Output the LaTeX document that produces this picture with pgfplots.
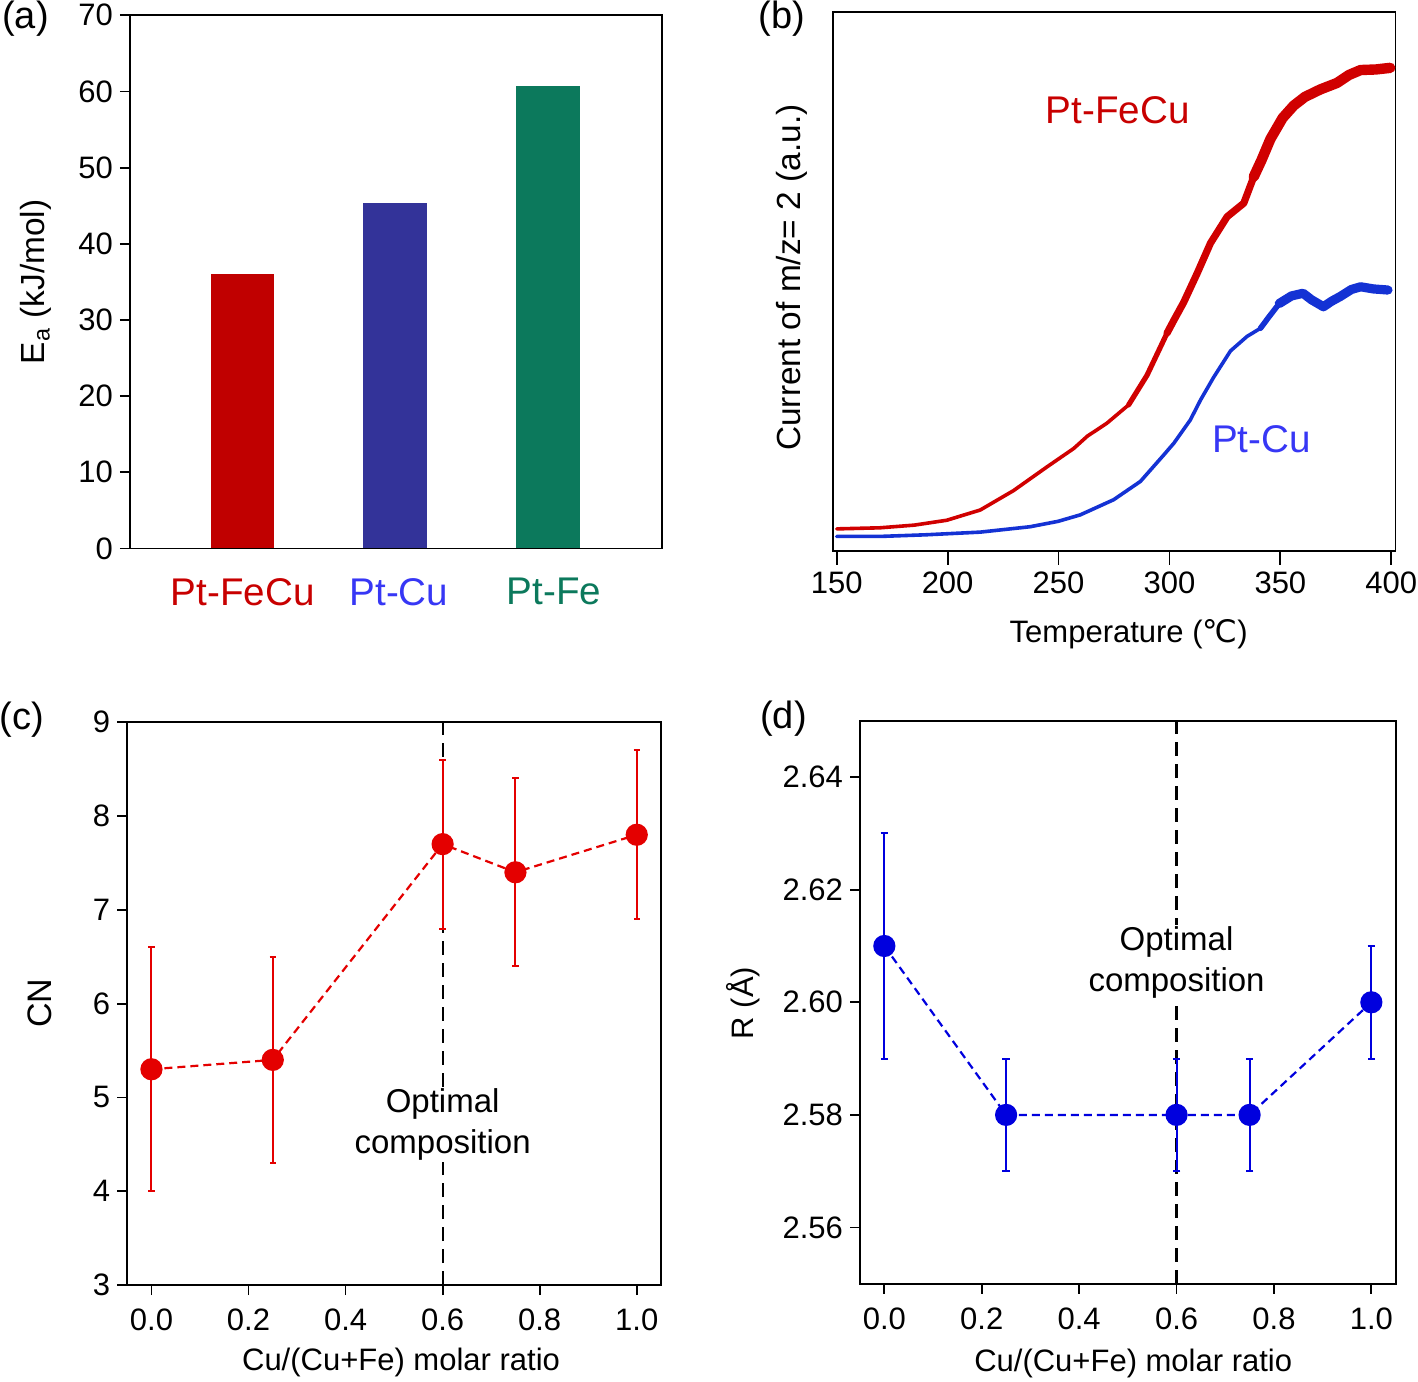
\documentclass[border=0pt]{standalone}
\usepackage{fontspec}
\setmainfont{Liberation Sans}
\newfontfamily\dejavu{DejaVu Sans}
\usepackage{pgfplots}
\pgfplotsset{compat=1.18}

\definecolor{barred}{RGB}{192,0,0}
\definecolor{barblue}{RGB}{51,51,153}
\definecolor{bargreen}{RGB}{12,121,92}
\definecolor{txtred}{RGB}{200,0,0}
\definecolor{txtblue}{RGB}{55,55,245}
\definecolor{lnred}{RGB}{208,0,0}
\definecolor{lnblue}{RGB}{20,50,212}
\definecolor{cred}{RGB}{228,0,0}
\definecolor{dblue}{RGB}{0,0,222}

\newcommand{\tfont}{\fontsize{15.5}{18}\selectfont}
\newcommand{\ylfont}{\fontsize{16.7}{20}\selectfont}
\newcommand{\bigfont}{\fontsize{19.3}{23}\selectfont}

\begin{document}
\begin{tikzpicture}
\path[use as bounding box] (0,0) rectangle (709pt,690.5pt);

\pgfplotsset{
  every axis/.append style={
    scale only axis, anchor=south west,
    axis line style={line width=0.9pt, black},
    every tick/.style={line width=0.9pt, black},
    tick align=outside, tick pos=left,
    major tick length=5pt,
    tick label style={font=\tfont},
    label style={font=\tfont},
    /pgf/number format/assume math mode=true,
    clip=false,
  },
}

% ---------------- (a)
\begin{axis}[at={(65pt,416.25pt)}, width=266pt, height=266.6pt,
  xmin=-0.736, xmax=2.748, ymin=0, ymax=70,
  ytick={0,10,...,70}, xtick=\empty,
  ylabel={E\textsubscript{a} (kJ/mol)},
  ylabel style={at={(axis description cs:-0.177,0.5)}, anchor=center, font=\ylfont}]
\addplot[ybar, bar width=31.75pt, bar shift=0pt, fill=barred, draw=none] coordinates {(0,36)};
\addplot[ybar, bar width=31.75pt, bar shift=0pt, fill=barblue, draw=none] coordinates {(1,45.4)};
\addplot[ybar, bar width=31.75pt, bar shift=0pt, fill=bargreen, draw=none] coordinates {(2,60.7)};
\node[font=\bigfont, text=txtred, inner sep=0pt, anchor=center] at (axis cs:0.003,-5.7) {Pt-FeCu};
\node[font=\bigfont, text=txtblue, inner sep=0pt, anchor=center] at (axis cs:1.025,-5.7) {Pt-Cu};
\node[font=\bigfont, text=bargreen, inner sep=0pt, anchor=center] at (axis cs:2.04,-5.7) {Pt-Fe};
\end{axis}

% ---------------- (b)
\begin{axis}[at={(416.35pt,415pt)}, width=281.4pt, height=269.6pt,
  xmin=148.2, xmax=401.9, ymin=0, ymax=100,
  ytick=\empty, xtick={150,200,...,400}, major tick length=7pt,
  xlabel={Temperature ({\dejavu ℃})},
  xlabel style={at={(axis description cs:0.526,-0.155)}, anchor=center},
  ylabel={Current of m/z= 2 (a.u.)},
  ylabel style={at={(axis description cs:-0.0732,0.507)}, anchor=center, font=\ylfont}]
% Pt-FeCu
\addplot[lnred, line width=1.8pt, line join=round, line cap=round] coordinates {
 (150,4.1) (169.5,4.3) (185,4.8) (199.6,5.7) (214.7,7.6) (229.7,11.2)
 (244.8,15.6) (256.8,19.0) (263,21.3) (271.8,23.7) (281.6,27.1)};
\addplot[lnred, line width=2.6pt, line join=round, line cap=round] coordinates {
 (281.6,27.1) (289.9,32.6) (298.9,40.4)};
\addplot[lnred, line width=3.6pt, line join=round, line cap=round] coordinates {
 (298.9,40.4) (302,42.8) (306.4,46.1) (312.5,51.5) (318.5,57.1) (326,62)
 (333.5,64.5) (338,69.4)};
\addplot[lnred, line width=5.2pt, line join=round, line cap=round] coordinates {
 (338,69.4) (341.5,72.5) (345.5,76.4) (351,80.3) (356,82.6) (361,84.2)
 (368,85.6) (375.5,86.8) (381,88.3) (386.2,89.2) (393,89.3) (399.5,89.6)};
% Pt-Cu
\addplot[lnblue, line width=1.8pt, line join=round, line cap=round] coordinates {
 (150,2.7) (169.5,2.7) (190,3.0) (214.7,3.5) (237.2,4.5) (249.8,5.5)
 (259.8,6.7) (274.8,9.5) (286.9,12.9) (297.4,17.8) (302,20) (309.4,24.3)
 (314,28) (319.9,32.2) (327.5,37.1) (335,39.8) (341,41.3)};
\addplot[lnblue, line width=2.8pt, line join=round, line cap=round] coordinates {
 (341,41.3) (345,43.5) (349.5,45.9)};
\addplot[lnblue, line width=4.6pt, line join=round, line cap=round] coordinates {
 (349.5,45.9) (355,47.3) (360.2,47.8) (364,46.6) (369.4,45.3) (373,46.3)
 (377,47.2) (382,48.5) (386.2,49) (392,48.6) (398.5,48.4)};
\node[font=\bigfont, text=txtred, inner sep=0pt, anchor=center] at (axis cs:276.7,81.7) {Pt-FeCu};
\node[font=\bigfont, text=txtblue, inner sep=0pt, anchor=center] at (axis cs:341.5,20.8) {Pt-Cu};
\end{axis}

% ---------------- (c)
\begin{axis}[at={(63.6pt,48pt)}, width=266.9pt, height=281.4pt,
  xmin=-0.05, xmax=1.05, ymin=3, ymax=9,
  xtick={0,0.2,0.4,0.6,0.8,1.0}, ytick={3,4,...,9},
  xticklabel shift=3.5pt,
  xticklabel style={/pgf/number format/.cd, fixed, fixed zerofill, precision=1},
  xlabel={Cu/(Cu+Fe) molar ratio},
  xlabel style={at={(axis description cs:0.513,-0.137)}, anchor=center},
  ylabel={CN},
  ylabel style={at={(axis description cs:-0.163,0.501)}, anchor=center, font=\fontsize{17}{20}\selectfont}]
\draw[black, line width=1.1pt, dash pattern=on 7pt off 4pt] (axis cs:0.6,3) -- (axis cs:0.6,9);
\addplot[cred, line width=1.1pt, dash pattern=on 4pt off 2.5pt,
  mark=*, mark size=5pt, mark options={solid, fill=cred, draw=cred},
  error bars/.cd, y dir=both, y explicit,
  error bar style={solid, line width=1pt, cred},
  error mark options={solid, line width=1pt, cred, mark size=1.6pt, rotate=90}]
coordinates {
 (0,5.3) +- (0,1.3)
 (0.25,5.4) +- (0,1.1)
 (0.6,7.7) +- (0,0.9)
 (0.75,7.4) +- (0,1.0)
 (1.0,7.8) +- (0,0.9)};
\node[fill=white, align=center, inner sep=1pt, font=\fontsize{16.5}{20.5}\selectfont] at (axis cs:0.6,4.71) {Optimal\\composition};
\end{axis}

% ---------------- (d)
\begin{axis}[at={(430pt,48.6pt)}, width=267.85pt, height=281.5pt,
  xmin=-0.05, xmax=1.05, ymin=2.55, ymax=2.65,
  xtick={0,0.2,0.4,0.6,0.8,1.0}, ytick={2.56,2.58,2.60,2.62,2.64},
  xticklabel shift=3.5pt,
  xticklabel style={/pgf/number format/.cd, fixed, fixed zerofill, precision=1},
  yticklabel style={/pgf/number format/.cd, fixed, fixed zerofill, precision=2},
  xlabel={Cu/(Cu+Fe) molar ratio},
  xlabel style={at={(axis description cs:0.51,-0.142)}, anchor=center},
  ylabel={R (Å)},
  ylabel style={at={(axis description cs:-0.219,0.499)}, anchor=center}]
\draw[black, line width=1.1pt, dash pattern=on 7pt off 4pt] (axis cs:0.6,2.55) -- (axis cs:0.6,2.65);
\addplot[dblue, line width=1.1pt, dash pattern=on 4pt off 2.5pt,
  mark=*, mark size=5pt, mark options={solid, fill=dblue, draw=dblue},
  error bars/.cd, y dir=both, y explicit,
  error bar style={solid, line width=1pt, dblue},
  error mark options={solid, line width=1pt, dblue, mark size=1.9pt, rotate=90}]
coordinates {
 (0,2.61) +- (0,0.02)
 (0.25,2.58) +- (0,0.01)
 (0.6,2.58) +- (0,0.01)
 (0.75,2.58) +- (0,0.01)
 (1.0,2.60) +- (0,0.01)};
\node[fill=white, align=center, inner sep=1pt, font=\fontsize{16.5}{20.5}\selectfont] at (axis cs:0.6,2.607) {Optimal\\composition};
\end{axis}

% panel letters
\node[font=\fontsize{19}{23}\selectfont, anchor=center] at (12.75pt,681pt) {(a)};
\node[font=\fontsize{19}{23}\selectfont, anchor=center] at (391pt,681pt) {(b)};
\node[font=\fontsize{19}{23}\selectfont, anchor=center] at (11pt,330.5pt) {(c)};
\node[font=\fontsize{19}{23}\selectfont, anchor=center] at (391.75pt,331pt) {(d)};
\end{tikzpicture}
\end{document}
